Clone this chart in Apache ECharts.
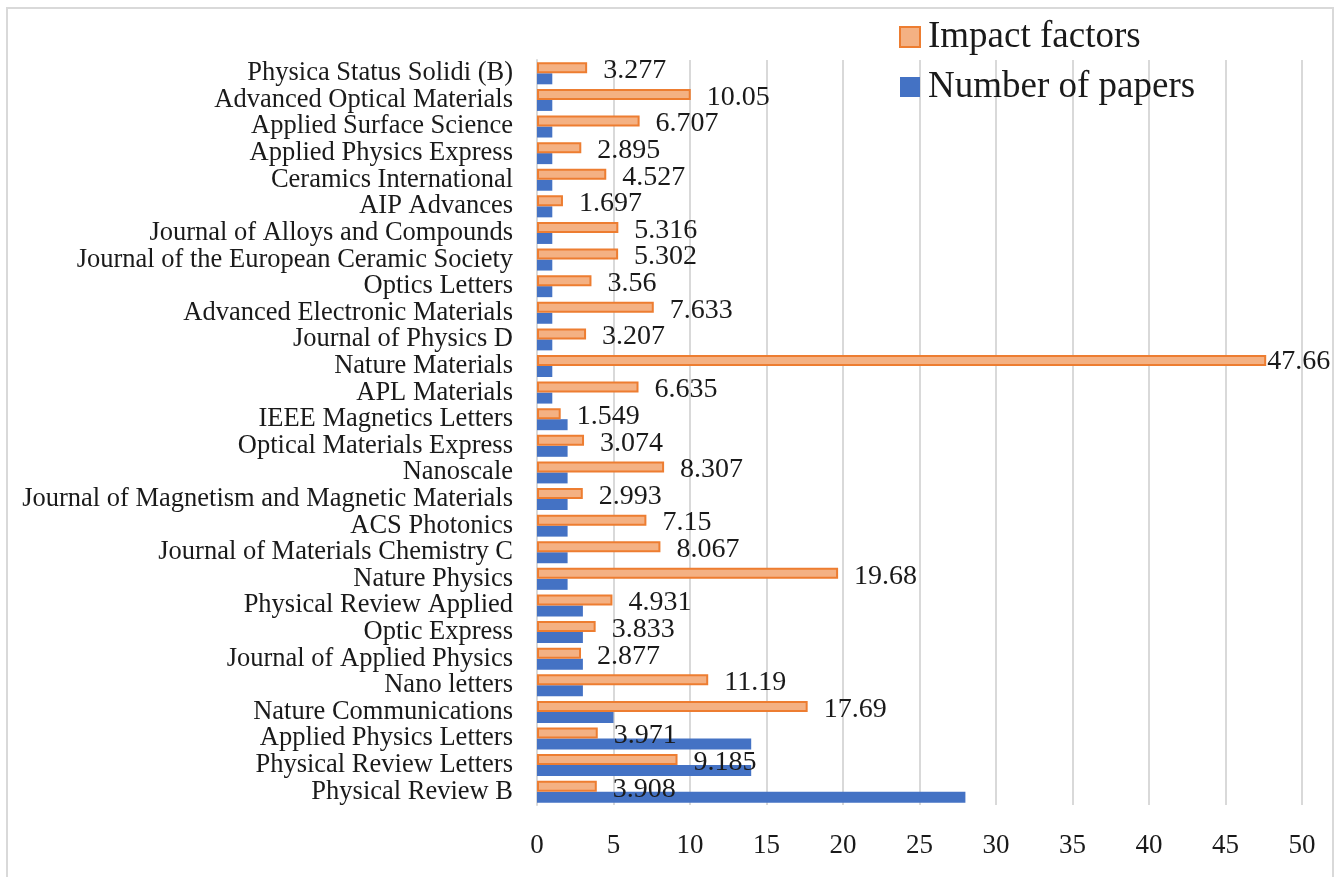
<!DOCTYPE html>
<html>
<head>
<meta charset="utf-8">
<script src="https://cdn.jsdelivr.net/npm/echarts@6/dist/echarts.min.js"></script>
<style>
html,body{margin:0;padding:0;background:#fff;}
#chart{width:1338px;height:877px;}
</style>
</head>
<body>
<div id="chart"></div>
<script>
const categories = [
  "Physical Review B",
  "Physical Review Letters",
  "Applied Physics Letters",
  "Nature Communications",
  "Nano letters",
  "Journal of Applied Physics",
  "Optic Express",
  "Physical Review Applied",
  "Nature Physics",
  "Journal of Materials Chemistry C",
  "ACS Photonics",
  "Journal of Magnetism and Magnetic Materials",
  "Nanoscale",
  "Optical Materials Express",
  "IEEE Magnetics Letters",
  "APL Materials",
  "Nature Materials",
  "Journal of Physics D",
  "Advanced Electronic Materials",
  "Optics Letters",
  "Journal of the European Ceramic Society",
  "Journal of Alloys and Compounds",
  "AIP Advances",
  "Ceramics International",
  "Applied Physics Express",
  "Applied Surface Science",
  "Advanced Optical Materials",
  "Physica Status Solidi (B)"
];
const impactFactors = [3.908, 9.185, 3.971, 17.69, 11.19, 2.877, 3.833, 4.931, 19.68, 8.067, 7.15, 2.993, 8.307, 3.074, 1.549, 6.635, 47.66, 3.207, 7.633, 3.56, 5.302, 5.316, 1.697, 4.527, 2.895, 6.707, 10.05, 3.277];
const numberOfPapers = [28, 14, 14, 5, 3, 3, 3, 3, 2, 2, 2, 2, 2, 2, 2, 1, 1, 1, 1, 1, 1, 1, 1, 1, 1, 1, 1, 1];
const xTicks = [0, 5, 10, 15, 20, 25, 30, 35, 40, 45, 50];

const FONT = '"Liberation Serif", "Times New Roman", serif';
const xMax = xTicks[xTicks.length - 1];
const maxIF = Math.max(...impactFactors);

const ifData = impactFactors.map(v => {
  // a label that would overflow the plot is pulled back against the bar end
  if (v === maxIF && v > xMax * 0.9) {
    return { value: v, label: { distance: 1, offset: [0, 1] } };
  }
  return v;
});

const chart = echarts.init(document.getElementById('chart'), null, { renderer: 'canvas' });
chart.setOption({
  backgroundColor: '#ffffff',
  animation: false,
  textStyle: { fontFamily: FONT },
  graphic: [{
    type: 'rect',
    shape: { x: 7, y: 8, width: 1326, height: 890 },
    style: { fill: 'none', stroke: '#d9d9d9', lineWidth: 2 },
    silent: true
  }],
  legend: {
    orient: 'vertical',
    left: 894,
    top: 13,
    data: ['Impact factors', 'Number of papers'],
    itemWidth: 20,
    itemHeight: 20,
    itemGap: 12,
    icon: 'rect',
    textStyle: { fontFamily: FONT, fontSize: 37, color: '#1a1a1a', lineHeight: 38, padding: [0, 0, 0, 3] }
  },
  grid: { left: 537, right: 36, top: 60, bottom: 72, containLabel: false },
  xAxis: {
    type: 'value',
    min: xTicks[0],
    max: xMax,
    interval: xTicks[1] - xTicks[0],
    axisLine: { show: false },
    axisTick: { show: false },
    axisLabel: { fontFamily: FONT, fontSize: 27, color: '#1a1a1a', margin: 27 },
    splitLine: { show: true, lineStyle: { color: '#d9d9d9', width: 2 } }
  },
  yAxis: {
    type: 'category',
    data: categories,
    axisLine: { show: true, lineStyle: { color: '#d9d9d9', width: 2 } },
    axisTick: { show: false },
    axisLabel: { interval: 0, fontFamily: FONT, fontSize: 26.5, color: '#1a1a1a', margin: 24 }
  },
  series: [
    {
      name: 'Impact factors',
      type: 'bar',
      data: ifData,
      barWidth: 11,
      barGap: '0%',
      itemStyle: { color: '#F4B183', borderColor: '#ED7D31', borderWidth: 2 },
      label: {
        show: true,
        position: 'right',
        distance: 16,
        offset: [0, 3],
        fontFamily: FONT,
        fontSize: 28,
        color: '#1a1a1a'
      },
      z: 3
    },
    {
      name: 'Number of papers',
      type: 'bar',
      data: numberOfPapers,
      barWidth: 11,
      barGap: '0%',
      itemStyle: { color: '#4472C4' },
      z: 2
    }
  ]
});
</script>
</body>
</html>
